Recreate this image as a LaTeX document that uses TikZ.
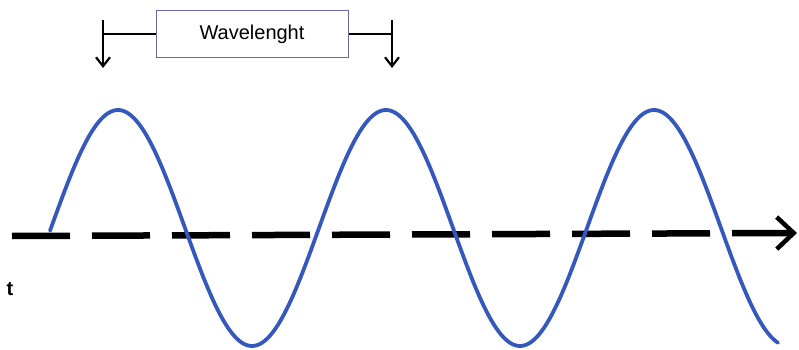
\documentclass[tikz,border=0pt]{standalone}
\usepackage{fontspec}
\setmainfont{Liberation Sans}
\usetikzlibrary{arrows.meta}
\definecolor{wave}{RGB}{52,88,190}
\definecolor{boxline}{RGB}{110,100,180}
\tikzset{
  wavestyle/.style={draw=wave,line width=3.8pt,line cap=round},
  axisstyle/.style={line width=6.5pt,dash pattern=on 58pt off 22pt,-{Straight Barb[length=17pt,width=32pt,line width=4.5pt]}},
  bracket/.style={line width=2.2pt},
  tickarrow/.style={line width=2.2pt,-{Straight Barb[length=9pt,width=14pt,line width=2.2pt]}},
  labelbox/.style={draw=boxline,line width=1pt,fill=white,minimum width=192pt,minimum height=47pt,inner sep=0pt,font=\fontsize{20}{24}\selectfont}
}
\begin{document}
\begin{tikzpicture}[x=1pt,y=-1pt]
\useasboundingbox (0,0) rectangle (799,350);
% axis
\coordinate (axs) at (12,236);
\coordinate (axe) at (797,233);
\draw[axisstyle] (axs) -- (axe);
% wave
\draw[wavestyle] plot[domain=50:778,samples=300,smooth] (\x,{228-118*cos((\x-118)/268*360)});
% wavelength bracket
\node[labelbox] (wl) at (252,34.5) {Wavelenght};
\coordinate (lt) at (103,34);
\coordinate (rt) at (392,34);
\coordinate (ltop) at (103,20);
\coordinate (lbot) at (103,68);
\coordinate (rtop) at (392,20);
\coordinate (rbot) at (392,68);
\draw[bracket] (wl.west |- lt) -- (lt);
\draw[bracket] (wl.east |- rt) -- (rt);
\draw[tickarrow] (ltop) -- (lbot);
\draw[tickarrow] (rtop) -- (rbot);
% label t
\node[font=\fontsize{20}{24}\selectfont\bfseries,inner sep=0pt] (t) at (10,289) {t};
\end{tikzpicture}
\end{document}
